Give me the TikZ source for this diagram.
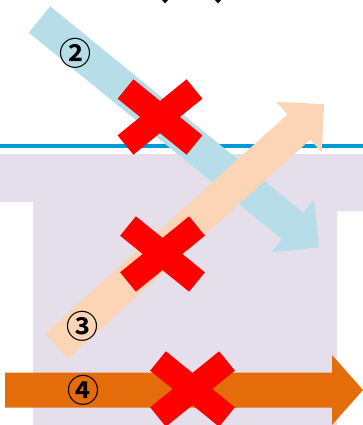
\documentclass[tikz,border=0pt]{standalone}
\usepackage{fontspec}
\newfontfamily\jpfont{Noto Sans CJK JP}[BoldFont={* Bold}]
\definecolor{lightblue}{HTML}{B7DDE8}
\definecolor{peach}{HTML}{FBD5B5}
\definecolor{darkorange}{HTML}{E46C0A}
\definecolor{lilac}{HTML}{E5DFEC}
\definecolor{lineblue}{HTML}{009AD8}
\begin{document}
\begin{tikzpicture}[x=1pt,y=-1pt]
		\tikzstyle{every node}=[font=\jpfont\bfseries\fontsize{32pt}{36pt}\selectfont, inner sep=0pt]
		\tikzstyle{redcross}=[line width=25pt, red]
		
		\useasboundingbox (0,0) rectangle (363,425);
		
		\fill[lilac] (0,154) -- (363,154) -- (363,211) -- (337,211) -- (337,425) -- (33,425) -- (33,202) -- (0,202) -- cycle;
		\fill[lineblue] (0,144) rectangle (363,147.5);
		
		\fill[black] (162,0) -- (168,0) -- (165,3.5) -- cycle;
		\fill[black] (215,0) -- (221,0) -- (218,3.5) -- cycle;
		
		\begin{scope}[shift={(39.5,19.5)}, rotate=-39.2]
			\fill[lightblue] (0,-17) -- (326.7,-17) -- (326.7,-34) -- (360.7,0) -- (326.7,34) -- (326.7,17) -- (0,17) -- cycle;
		\end{scope}
		
		\begin{scope}[shift={(56.5,346)}, rotate=42.1]
			\fill[peach] (0,-17) -- (326.7,-17) -- (326.7,-34) -- (360.7,0) -- (326.7,34) -- (326.7,17) -- (0,17) -- cycle;
		\end{scope}
		
		\fill[darkorange] (5,372.5) -- (332,372.5) -- (332,355) -- (363,390) -- (332,425) -- (332,407.5) -- (5,407.5) -- cycle;
		
		\foreach \cx/\cy in {160/117, 162.5/254, 192.5/389}{
			\draw[redcross] (\cx-34.5,\cy-28) -- (\cx+34.5,\cy+28);
			\draw[redcross] (\cx+34.5,\cy-28) -- (\cx-34.5,\cy+28);
		}
		
		\node (two) at (75,53) {②};
		\node (three) at (82,326) {③};
		\node (four) at (83,390) {④};
		
	\end{tikzpicture}
\end{document}
